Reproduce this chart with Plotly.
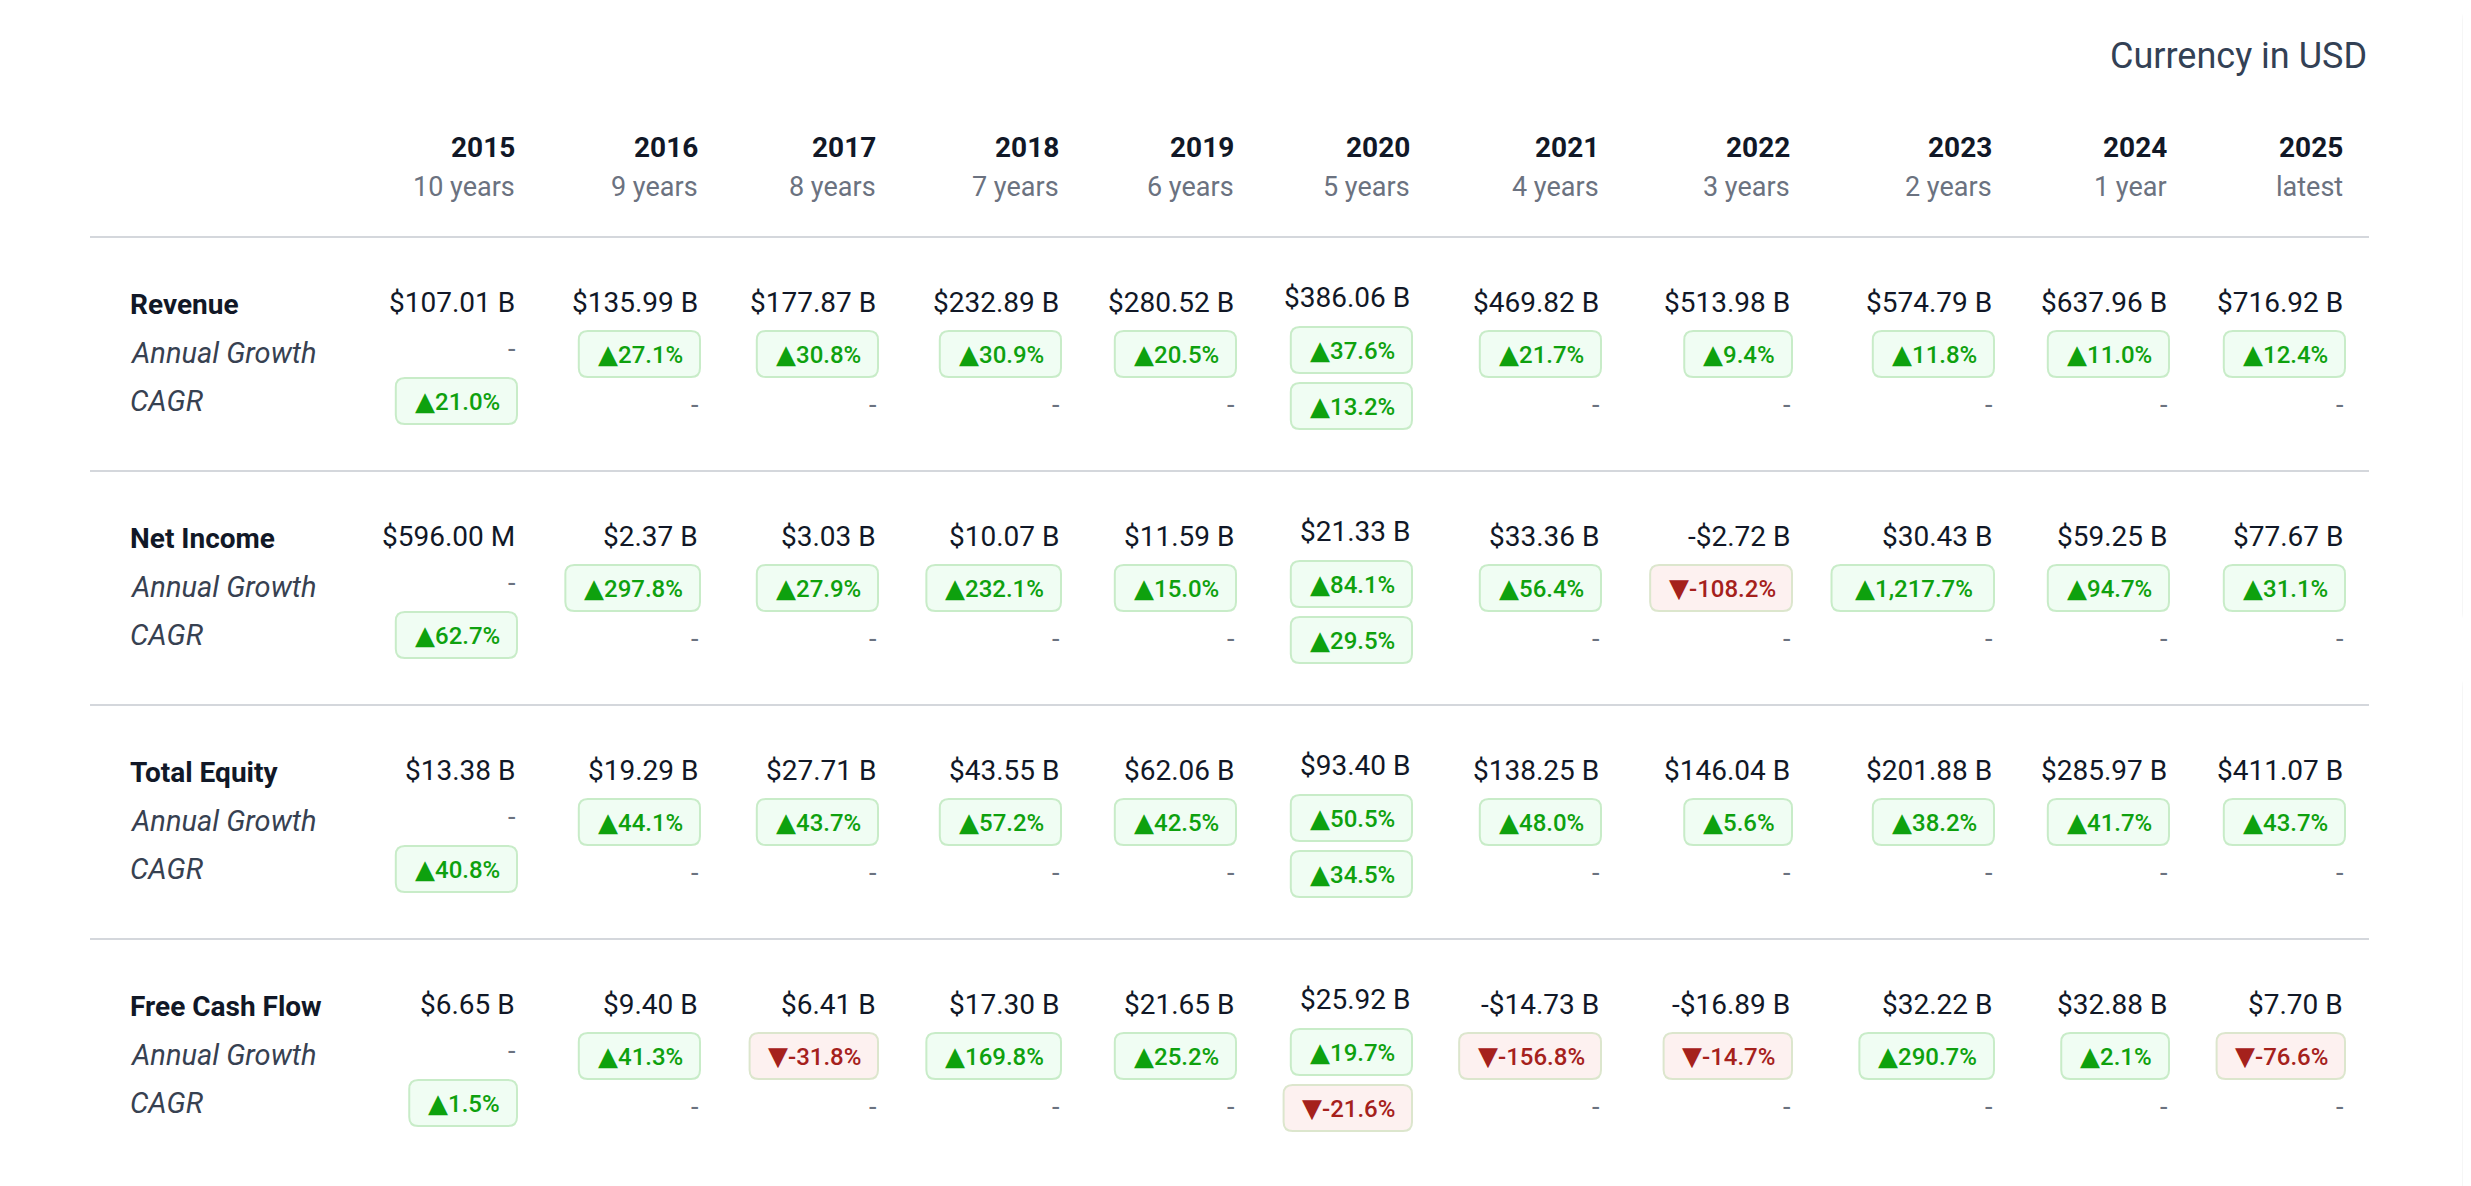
import plotly.graph_objects as go

# Data
years = ["2015", "2016", "2017", "2018", "2019", "2020", "2021", "2022", "2023", "2024", "2025"]
periods = ["10 years", "9 years", "8 years", "7 years", "6 years", "5 years",
           "4 years", "3 years", "2 years", "1 year", "latest"]
metrics = ["Revenue", "Net Income", "Total Equity", "Free Cash Flow"]
sub_labels = ["Annual Growth", "CAGR"]

# values in billions USD
revenue = [107.01, 135.99, 177.87, 232.89, 280.52, 386.06, 469.82, 513.98, 574.79, 637.96, 716.92]
net_income = [0.596, 2.37, 3.03, 10.07, 11.59, 21.33, 33.36, -2.72, 30.43, 59.25, 77.67]
total_equity = [13.38, 19.29, 27.71, 43.55, 62.06, 93.40, 138.25, 146.04, 201.88, 285.97, 411.07]
free_cash_flow = [6.65, 9.40, 6.41, 17.30, 21.65, 25.92, -14.73, -16.89, 32.22, 32.88, 7.70]

# annual growth in %, None where shown as "-"
revenue_growth = [None, 27.1, 30.8, 30.9, 20.5, 37.6, 21.7, 9.4, 11.8, 11.0, 12.4]
net_income_growth = [None, 297.8, 27.9, 232.1, 15.0, 84.1, 56.4, -108.2, 1217.7, 94.7, 31.1]
total_equity_growth = [None, 44.1, 43.7, 57.2, 42.5, 50.5, 48.0, 5.6, 38.2, 41.7, 43.7]
free_cash_flow_growth = [None, 41.3, -31.8, 169.8, 25.2, 19.7, -156.8, -14.7, 290.7, 2.1, -76.6]

# CAGR in % (10 year at 2015, 5 year at 2020)
revenue_cagr = [21.0, None, None, None, None, 13.2, None, None, None, None, None]
net_income_cagr = [62.7, None, None, None, None, 29.5, None, None, None, None, None]
total_equity_cagr = [40.8, None, None, None, None, 34.5, None, None, None, None, None]
free_cash_flow_cagr = [1.5, None, None, None, None, -21.6, None, None, None, None, None]

values = [revenue, net_income, total_equity, free_cash_flow]
growths = [revenue_growth, net_income_growth, total_equity_growth, free_cash_flow_growth]
cagrs = [revenue_cagr, net_income_cagr, total_equity_cagr, free_cash_flow_cagr]

# Layout (pixel space)
W, H = 2471, 1186
PAGE_MARGIN = 8  # default body margin of the html page
col_right = [517, 700, 878, 1061, 1236, 1412, 1601, 1792, 1994, 2169, 2345]
line_x0, line_x1 = 90, 2369
label_x = 128
section_pitch = 234
FONT = "Roboto, 'Noto Sans', sans-serif"
DARK = "#111827"
GREY = "#6b7280"
GREEN, GREEN_BG, GREEN_BD = "#0ea10e", "#f0fdf3", "#c8ecc8"
RED, RED_BG, RED_BD = "#a5211c", "#fdf1f0", "#dce6cd"
BADGE_FS = 24
BADGE_H = 46
BADGE_PAD = 18
CHAR_EM = {".": 0.27, ",": 0.6, "%": 0.74, "-": 0.3, "▲": 0.86, "▼": 0.86}


def fmt_money(v):
    sign = "-" if v < 0 else ""
    a = abs(v)
    if a < 1:
        return f"{sign}${a * 1000:.2f} M"
    return f"{sign}${a:,.2f} B"


def fmt_growth(v):
    return ("▲" if v >= 0 else "▼") + f"{v:,.1f}%"


def badge_width(txt):
    em = sum(CHAR_EM.get(c, 0.56) for c in txt)
    return em * BADGE_FS + 2 * BADGE_PAD


def rounded_rect(x0, y0, x1, y1, r):
    return (f"M {x0 + r},{y0} L {x1 - r},{y0} Q {x1},{y0} {x1},{y0 + r} "
            f"L {x1},{y1 - r} Q {x1},{y1} {x1 - r},{y1} L {x0 + r},{y1} "
            f"Q {x0},{y1} {x0},{y1 - r} L {x0},{y0 + r} Q {x0},{y0} {x0 + r},{y0} Z")


fig = go.Figure()
annotations = []
shapes = []


def text(x, y, s, size, color=DARK, anchor="right", weight="normal", style="normal"):
    annotations.append(dict(
        x=x, y=y, xref="x", yref="y", text=s, showarrow=False,
        xanchor=anchor, yanchor="middle",
        font=dict(family=FONT, size=size, color=color, weight=weight, style=style),
    ))


def badge(xr, yc, v):
    s = fmt_growth(v)
    w = badge_width(s)
    up = v >= 0
    shapes.append(dict(
        type="path", xref="x", yref="y",
        path=rounded_rect(xr - w, yc - BADGE_H / 2, xr, yc + BADGE_H / 2, 9),
        fillcolor=GREEN_BG if up else RED_BG,
        line=dict(color=GREEN_BD if up else RED_BD, width=2), layer="below",
    ))
    label = (f"<span style='font-family:DejaVu Sans;font-size:26px'>{s[0]}</span>"
             f"{s[1:]}")
    text(xr - w / 2 + 1, yc, label, BADGE_FS, GREEN if up else RED, anchor="center", weight=500)


# header
text(2369, 56, "Currency in USD", 36, "#334155")
for i, (yr, per) in enumerate(zip(years, periods)):
    text(col_right[i], 147, f"<b>{yr}</b>", 28)
    text(col_right[i], 187, per, 27, GREY)

# horizontal rules
for k in range(len(metrics)):
    y = 237 + k * section_pitch
    shapes.append(dict(type="line", xref="x", yref="y", x0=line_x0, x1=line_x1, y0=y, y1=y,
                       line=dict(color="#d4d7dc", width=2)))

# sections
for k, name in enumerate(metrics):
    off = k * section_pitch
    text(label_x, 304 + off, f"<b>{name}</b>", 28, anchor="left")
    text(label_x, 353 + off, f"<i>{sub_labels[0]}</i>", 29, "#374151", anchor="left")
    text(label_x, 401 + off, f"<i>{sub_labels[1]}</i>", 29, "#374151", anchor="left")
    for i in range(len(years)):
        xr = col_right[i]
        two = cagrs[k][i] is not None and growths[k][i] is not None
        text(xr, (297 if two else 302) + off, fmt_money(values[k][i]), 28)
        g = growths[k][i]
        if g is None:
            text(xr, 349 + off, "-", 27, GREY)
        else:
            badge(xr, (350 if two else 354) + off, g)
        c = cagrs[k][i]
        if c is None:
            text(xr, 405 + off, "-", 27, GREY)
        else:
            badge(xr, (406 if two else 401) + off, c)

# right-hand card edges
for y0, y1 in [(10, 622), (677, 1200)]:
    edge = f"M 2476,{y0} Q 2466,{y0} 2466,{y0 + 10} L 2466,{y1 - 10} Q 2466,{y1} 2476,{y1}"
    shapes.append(dict(type="path", xref="x", yref="y", path=edge,
                       line=dict(color="rgba(0,0,0,0.035)", width=8)))
    shapes.append(dict(type="path", xref="x", yref="y", path=edge,
                       line=dict(color="#e3e5ea", width=2)))

# figure fills the viewport minus the page margin, so nothing overflows
fig.update_layout(
    width=W - PAGE_MARGIN, height=H - PAGE_MARGIN,
    margin=dict(l=0, r=0, t=0, b=0),
    paper_bgcolor="white", plot_bgcolor="white",
    xaxis=dict(range=[PAGE_MARGIN, W], visible=False, fixedrange=True),
    yaxis=dict(range=[H, PAGE_MARGIN], visible=False, fixedrange=True),
    annotations=annotations, shapes=shapes,
    showlegend=False,
)

fig.write_html("out.html")
